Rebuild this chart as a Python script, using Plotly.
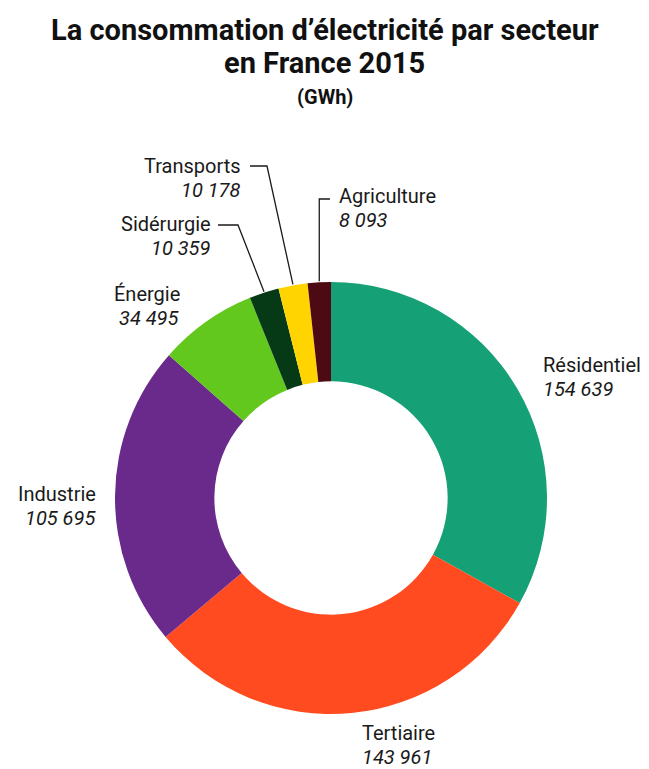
import math
import plotly.graph_objects as go

# ---- data ----
sectors = ["Résidentiel", "Tertiaire", "Industrie", "Énergie", "Sidérurgie", "Transports", "Agriculture"]
values_gwh = [154639, 143961, 105695, 34495, 10359, 10178, 8093]

# ---- styles ----
colors = ["#16a075", "#ff4b1f", "#6a2a8c", "#62c81e", "#063a16", "#ffd400", "#4d0a12"]
W, H = 649, 769
CX, CY, R = 331, 498, 216
HOLE = 0.54
FONT = "Roboto"
LABEL_SIZE = 20
LINE_GAP = 24

# label placement (pixels): (anchor x, first line centre y, side, leader elbow or None)
label_pos = {
    "Résidentiel": (541, 365, "left", None),
    "Tertiaire": (360, 733, "left", None),
    "Industrie": (98, 494, "right", None),
    "Énergie": (182, 294, "right", None),
    "Sidérurgie": (213, 224, "right", (218, 238, 225)),
    "Transports": (243, 166, "right", (250, 267, 166)),
    "Agriculture": (337, 196, "left", (330, None, 199)),
}


def px(x):
    return x / W


def py(y):
    return 1 - y / H


def fmt(v):
    return f"{v:,}".replace(",", " ")


fig = go.Figure(go.Pie(
    labels=sectors, values=values_gwh, sort=False, direction="clockwise",
    rotation=0, hole=HOLE, marker=dict(colors=colors, line=dict(width=0)),
    textinfo="none", hoverinfo="label+value", showlegend=False,
    domain=dict(x=[px(CX - R), px(CX + R)], y=[py(CY + R), py(CY - R)]),
))

annotations = []
shapes = []
total = sum(values_gwh)
cum = 0.0
for name, v in zip(sectors, values_gwh):
    start = cum / total * 360
    cum += v
    end = cum / total * 360
    mid = math.radians((start + end) / 2)
    ex = CX + R * math.sin(mid)
    ey = CY - R * math.cos(mid)
    ax, ay, side, elbow = label_pos[name]
    for i, txt in enumerate([name, f"<i>{fmt(v)}</i>"]):
        annotations.append(dict(
            x=px(ax), y=py(ay + i * LINE_GAP), xref="paper", yref="paper",
            xanchor=side, yanchor="middle", align=side, showarrow=False,
            text=txt, font=dict(family=FONT, size=LABEL_SIZE, color="#1a1a1a"),
        ))
    if elbow is not None:
        x0, x1, y0 = elbow
        if x1 is None:
            x1 = ex
        path = f"M {px(x0)} {py(y0)} L {px(x1)} {py(y0)} L {px(ex)} {py(ey - 1)}"
        shapes.append(dict(type="path", path=path, xref="paper", yref="paper",
                           line=dict(color="#1a1a1a", width=1.3)))

title_lines = [
    ("<b>La consommation d’électricité par secteur</b>", 30, 29),
    ("<b>en France 2015</b>", 63, 29),
    ("<b>(GWh)</b>", 97, 20),
]
for t, y, s in title_lines:
    annotations.append(dict(
        x=0.5, y=py(y), xref="paper", yref="paper", xanchor="center", yanchor="middle",
        showarrow=False, text=t, font=dict(family=FONT, size=s, color="#111111"),
    ))

fig.update_layout(
    width=W, height=H, margin=dict(l=0, r=0, t=0, b=0),
    paper_bgcolor="white", plot_bgcolor="white",
    annotations=annotations, shapes=shapes,
)

fig.write_html("out.html", config={"displayModeBar": False},
               post_script="document.body.style.margin='0px';")
